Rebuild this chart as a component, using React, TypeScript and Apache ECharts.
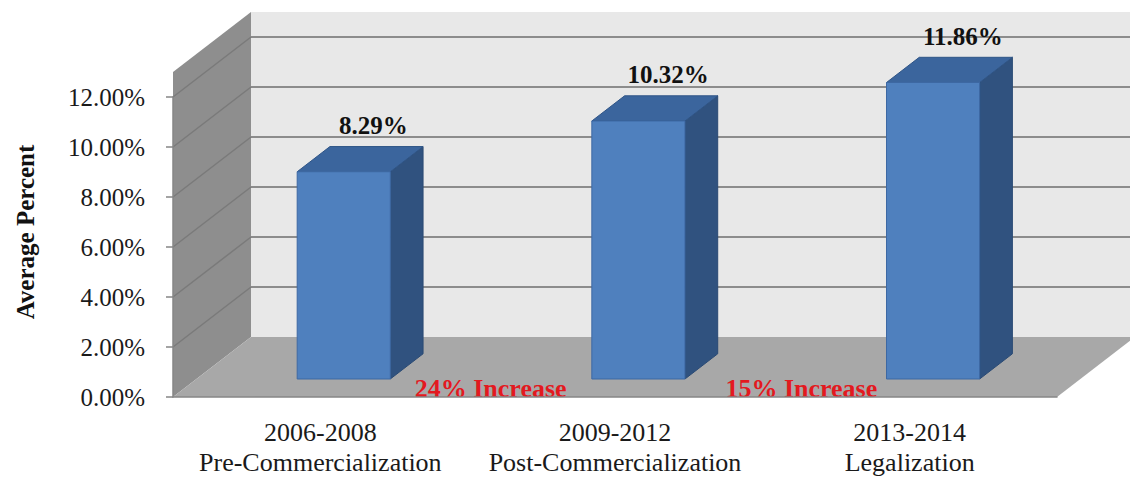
import React, { useEffect, useRef } from "react";
import * as echarts from "echarts";

// ---- data ----
const categories = [
  "2006-2008\nPre-Commercialization",
  "2009-2012\nPost-Commercialization",
  "2013-2014\nLegalization",
];
const values = [8.29, 10.32, 11.86];
const valueLabels = ["8.29%", "10.32%", "11.86%"];
const increaseLabels = ["", "24% Increase", "15% Increase"];
const yGridValues = [2, 4, 6, 8, 10, 12];
const Y_MIN = 0;
const Y_MAX = 12;
const Y_INTERVAL = 2;
const WALL_TOP = 13;
const yTitle = "Average Percent";

// ---- 3D projection / style constants ----
const DX = 78;
const DY = -60;
const BAR_FRONT = 0.3;
const BAR_BACK = 0.72;
const BAR_HALF = 0.158;
const INCREASE_OFFSET = [0, 23, 39];
const FONT = "Liberation Serif";

const P = (x: number, y: number, d: number) => [x + DX * d, y + DY * d];

export default function App() {
  const ref = useRef<HTMLDivElement>(null);
  useEffect(() => {
    if (!ref.current) return;
    const chart = echarts.init(ref.current, null, { renderer: "svg" });
    const option: any = {
      animation: false,
      grid: { left: 173, right: 73, top: 97, bottom: 82 },
      xAxis: {
        type: "category",
        data: categories,
        z: 10,
        axisLine: { lineStyle: { color: "#868686", width: 1.5 } },
        axisTick: { length: 7, lineStyle: { color: "#868686", width: 1.5 } },
        axisLabel: {
          interval: 0,
          fontFamily: FONT,
          fontSize: 26,
          color: "#1a1a1a",
          lineHeight: 30,
          margin: 20,
        },
      },
      yAxis: {
        type: "value",
        min: Y_MIN,
        max: Y_MAX,
        interval: Y_INTERVAL,
        z: 10,
        splitLine: { show: false },
        axisLine: { show: true, lineStyle: { color: "#868686", width: 1.5 } },
        axisTick: { show: true, length: 7, lineStyle: { color: "#868686", width: 1.5 } },
        axisLabel: {
          fontFamily: FONT,
          fontSize: 25,
          color: "#1a1a1a",
          margin: 28,
          formatter: (v: number) => v.toFixed(2) + "%",
        },
      },
      graphic: [
        {
          type: "text",
          x: 25,
          y: 232,
          rotation: Math.PI / 2,
          style: {
            text: yTitle,
            fill: "#111",
            font: `bold 25px "${FONT}"`,
            align: "center",
            verticalAlign: "middle",
          },
        },
      ],
      series: [
        {
          type: "custom",
          silent: true,
          z: 1,
          data: [[0, 0]],
          renderItem: (params: any, api: any) => {
            const cs = params.coordSys;
            const x0 = cs.x;
            const x1 = cs.x + cs.width;
            const yOf = (v: number) => api.coord([0, v])[1];
            const y0 = yOf(0);
            const yT = yOf(WALL_TOP);
            const children: any[] = [];
            children.push({
              type: "polygon",
              shape: { points: [P(x0, y0, 1), P(x1, y0, 1), P(x1, yT, 1), P(x0, yT, 1)] },
              style: { fill: "#e8e8e8" },
            });
            yGridValues.forEach((v) => {
              const a = P(x0, yOf(v), 1);
              const b = P(x1, yOf(v), 1);
              children.push({
                type: "line",
                shape: { x1: a[0], y1: a[1], x2: b[0], y2: b[1] },
                style: { stroke: "#8c8c8c", lineWidth: 2 },
              });
            });
            children.push({
              type: "polygon",
              shape: { points: [P(x0, y0, 0), P(x0, y0, 1), P(x0, yT, 1), P(x0, yT, 0)] },
              style: { fill: "#8e8e8e" },
            });
            yGridValues.forEach((v) => {
              const a = P(x0, yOf(v), 0);
              const b = P(x0, yOf(v), 1);
              children.push({
                type: "line",
                shape: { x1: a[0], y1: a[1], x2: b[0], y2: b[1] },
                style: { stroke: "#7a7a7a", lineWidth: 1.5 },
              });
            });
            children.push({
              type: "polygon",
              shape: { points: [P(x0, y0, 0), P(x1, y0, 0), P(x1, y0, 1), P(x0, y0, 1)] },
              style: { fill: "#a8a8a8" },
            });
            return { type: "group", children };
          },
        },
        {
          type: "custom",
          silent: true,
          z: 3,
          data: values.map((v, i) => [i, v]),
          encode: { x: 0, y: 1 },
          renderItem: (params: any, api: any) => {
            const i = api.value(0);
            const v = api.value(1);
            const c0 = api.coord([i, 0]);
            const cv = api.coord([i, v]);
            const band = api.size([1, 0])[0];
            const hw = band * BAR_HALF;
            const xl = c0[0] - hw;
            const xr = c0[0] + hw;
            const f = BAR_FRONT;
            const b = BAR_BACK;
            const children: any[] = [
              {
                type: "polygon",
                shape: { points: [P(xr, c0[1], f), P(xr, c0[1], b), P(xr, cv[1], b), P(xr, cv[1], f)] },
                style: { fill: "#30527f", stroke: "#2a4a74", lineWidth: 1 },
              },
              {
                type: "polygon",
                shape: { points: [P(xl, cv[1], f), P(xr, cv[1], f), P(xr, cv[1], b), P(xl, cv[1], b)] },
                style: { fill: "#3b659d", stroke: "#2f5587", lineWidth: 1 },
              },
              {
                type: "polygon",
                shape: { points: [P(xl, c0[1], f), P(xr, c0[1], f), P(xr, cv[1], f), P(xl, cv[1], f)] },
                style: { fill: "#4f80be", stroke: "#3d68a3", lineWidth: 1 },
              },
              {
                type: "text",
                x: c0[0] + DX * b - 3,
                y: cv[1] + DY * b - 21,
                style: {
                  text: valueLabels[i],
                  fill: "#111",
                  font: `bold 25px "${FONT}"`,
                  align: "center",
                  verticalAlign: "middle",
                },
              },
            ];
            if (increaseLabels[i]) {
              const prev = api.coord([i - 1, 0]);
              children.push({
                type: "text",
                x: (prev[0] + c0[0]) / 2 + INCREASE_OFFSET[i],
                y: c0[1] - 9,
                style: {
                  text: increaseLabels[i],
                  fill: "#e3191f",
                  font: `bold 26px "${FONT}"`,
                  align: "center",
                  verticalAlign: "middle",
                },
              });
            }
            return { type: "group", children };
          },
        },
      ],
    };
    chart.setOption(option);
    return () => chart.dispose();
  }, []);
  return (
    <div
      ref={ref}
      style={{ position: "absolute", left: 0, top: 0, width: 1130, height: 479, background: "#fff" }}
    />
  );
}
